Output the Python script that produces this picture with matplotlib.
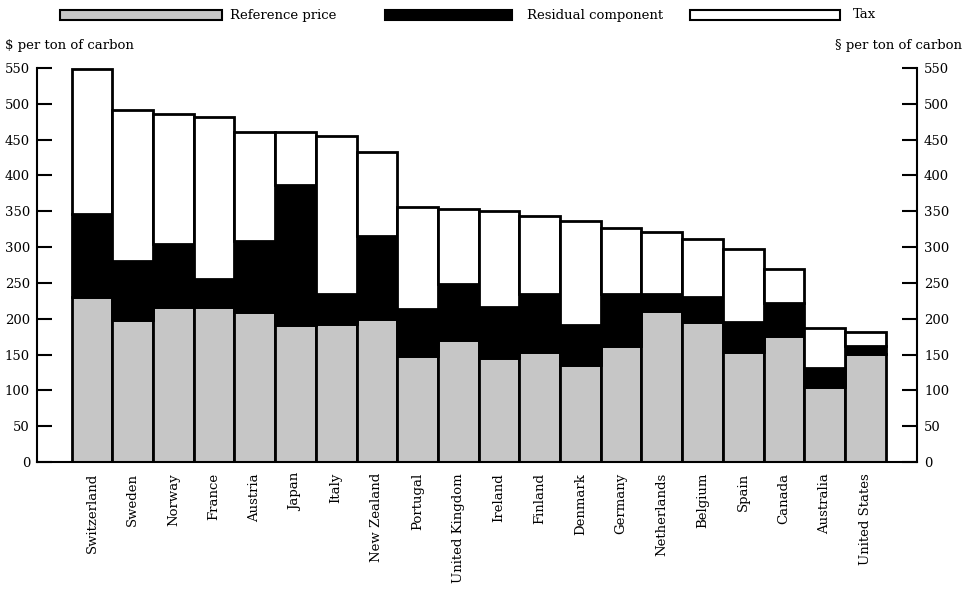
import numpy as np
import matplotlib.pyplot as plt
from matplotlib.patches import Rectangle

countries = ["Switzerland", "Sweden", "Norway", "France", "Austria", "Japan",
             "Italy", "New Zealand", "Portugal", "United Kingdom", "Ireland",
             "Finland", "Denmark", "Germany", "Netherlands", "Belgium", "Spain",
             "Canada", "Australia", "United States"]
reference = [231, 198, 216, 217, 210, 191, 193, 200, 148, 170, 145, 154,
             136, 162, 211, 195, 153, 176, 105, 151]
residual = [115, 82, 89, 38, 98, 196, 42, 115, 66, 79, 71, 81,
            55, 73, 24, 35, 42, 46, 26, 11]
tax = [203, 212, 181, 227, 152, 73, 220, 118, 142, 104, 135, 109,
       145, 92, 86, 81, 103, 47, 56, 19]

ticks = [0, 50, 100, 150, 200, 250, 300, 350, 400, 450, 500, 550]
legend_labels = ["Reference price", "Residual component", "Tax"]

GRAY = "#c6c6c6"
plt.rcParams["font.family"] = ["DejaVu Serif"]

W, H = 967, 590
fig = plt.figure(figsize=(W / 100, H / 100), dpi=100)
ax = fig.add_axes([37 / W, 128 / H, 880 / W, 394 / H])

x = np.arange(len(countries))
ref = np.array(reference)
res = np.array(residual)
tx = np.array(tax)

ax.bar(x, ref, width=1.0, color=GRAY, edgecolor="black", linewidth=2)
ax.bar(x, res, bottom=ref, width=1.0, color="black", edgecolor="black", linewidth=2)
ax.bar(x, tx, bottom=ref + res, width=1.0, color="white", edgecolor="black", linewidth=2)

ax.set_xlim(-1.35, len(countries) + 0.27)
ax.set_ylim(0, 550)
ax.set_yticks(ticks)
ax.set_xticks(x)
ax.set_xticklabels(countries, rotation=90, fontsize=9.5)
ax.tick_params(axis="x", length=0, pad=8)
ax.tick_params(axis="y", left=True, right=True, labelleft=True, labelright=True,
               direction="in", length=11, width=1.5, labelsize=9.5, pad=5)
ax.spines["top"].set_visible(False)
for s in ["left", "right", "bottom"]:
    ax.spines[s].set_linewidth(1.5)

fig.text(5 / W, 1 - 46 / H, "$ per ton of carbon", fontsize=9.5, ha="left", va="center")
fig.text(962 / W, 1 - 46 / H, "§ per ton of carbon", fontsize=9.5, ha="right", va="center")

# legend drawn by hand: patch boxes (x0, x1 in px) and label start
boxes = [(60, 222, GRAY), (385, 512, "black"), (690, 840, "white")]
label_x = [230, 527, 853]
for (x0, x1, c), lx, lab in zip(boxes, label_x, legend_labels):
    fig.add_artist(Rectangle((x0 / W, 1 - 20 / H), (x1 - x0) / W, 10 / H,
                             facecolor=c, edgecolor="black", linewidth=1.5,
                             transform=fig.transFigure))
    fig.text(lx / W, 1 - 15 / H, lab, fontsize=9.5, ha="left", va="center")

fig.savefig("out.png", dpi=100)
